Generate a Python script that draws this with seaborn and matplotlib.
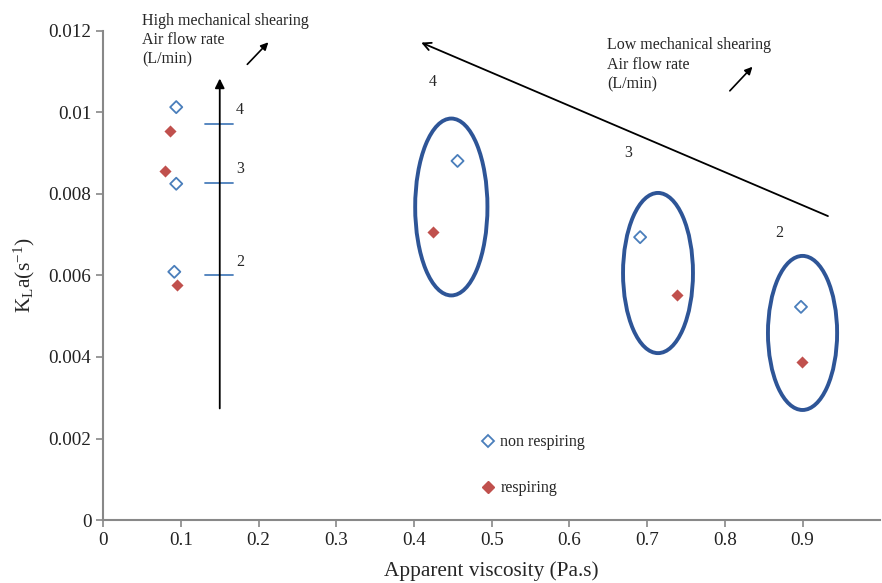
import numpy as np
import pandas as pd
import matplotlib
matplotlib.use("Agg")
import matplotlib.pyplot as plt
from matplotlib.patches import Ellipse
from matplotlib.lines import Line2D
import seaborn as sns

# ---- data ----
nonresp_visc = [0.094, 0.094, 0.0915, 0.456, 0.691, 0.898]
nonresp_kla = [0.01013, 0.00825, 0.00609, 0.00881, 0.00694, 0.00523]
resp_visc = [0.086, 0.079, 0.095, 0.425, 0.738, 0.899]
resp_kla = [0.00955, 0.00856, 0.00577, 0.00707, 0.00552, 0.00388]
series_names = ["non respiring", "respiring"]
x_ticks = [0, 0.1, 0.2, 0.3, 0.4, 0.5, 0.6, 0.7, 0.8, 0.9]
x_tick_labels = ["0", "0.1", "0.2", "0.3", "0.4", "0.5", "0.6", "0.7", "0.8", "0.9"]
y_ticks = [0, 0.002, 0.004, 0.006, 0.008, 0.01, 0.012]
y_tick_labels = ["0", "0.002", "0.004", "0.006", "0.008", "0.01", "0.012"]
# ellipse groups (center x, center y, width, height)
ell_cx = [0.448, 0.714, 0.900]
ell_cy = [0.00768, 0.00606, 0.00459]
ell_w = [0.093, 0.090, 0.089]
ell_h = [0.00434, 0.00393, 0.00378]
# air flow rate levels on vertical scale
flow_levels = ["4", "3", "2"]
flow_level_y = [0.00972, 0.00827, 0.00600]

df = pd.DataFrame({
    "visc": nonresp_visc + resp_visc,
    "kla": nonresp_kla + resp_kla,
    "type": [series_names[0]] * len(nonresp_visc) + [series_names[1]] * len(resp_visc),
})

sns.set_style("white")
plt.rcParams["font.family"] = ["Liberation Serif", "DejaVu Serif"]
plt.rcParams["mathtext.fontset"] = "stix"
plt.rcParams["mathtext.default"] = "regular"

BLUE = "#4a7ebb"
RED = "#c0504d"
DARK = "#2e5597"
GRAY = "#888888"

fig = plt.figure(figsize=(8.82, 5.83), dpi=100)
ax = fig.add_axes([0.117, 0.108, 0.881, 0.839])

d_non = df[df["type"] == series_names[0]]
d_res = df[df["type"] == series_names[1]]
sns.scatterplot(data=d_non, x="visc", y="kla", ax=ax, marker="D", s=38,
                color=BLUE, linewidth=1.3, legend=False)
ax.collections[-1].set_facecolor("none")
ax.collections[-1].set_edgecolor(BLUE)
sns.scatterplot(data=d_res, x="visc", y="kla", ax=ax, marker="D", s=38,
                color=RED, linewidth=0, legend=False)

for cx, cy, w, h in zip(ell_cx, ell_cy, ell_w, ell_h):
    ax.add_patch(Ellipse((cx, cy), w, h, fill=False, edgecolor=DARK, linewidth=2.8))

ax.set_xlim(0, 1.0)
ax.set_ylim(0, 0.012)
ax.set_xticks(x_ticks)
ax.set_xticklabels(x_tick_labels)
ax.set_yticks(y_ticks)
ax.set_yticklabels(y_tick_labels)
ax.tick_params(axis="both", labelsize=13.8, colors="#222222", length=5,
               width=1.2, direction="out", color=GRAY, left=True, bottom=True)
for s in ["top", "right"]:
    ax.spines[s].set_visible(False)
for s in ["left", "bottom"]:
    ax.spines[s].set_color(GRAY)
    ax.spines[s].set_linewidth(1.5)

ax.set_xlabel("Apparent viscosity (Pa.s)", fontsize=15.3, labelpad=9)
ax.set_ylabel("K$_L$a(s$^{-1}$)", fontsize=15.5, labelpad=8)

# vertical arrow (high shearing)
ax.annotate("", xy=(0.150, 0.0109), xytext=(0.150, 0.00267),
            arrowprops=dict(arrowstyle="-|>", color="black", lw=1.3, mutation_scale=14))
for lab, yy in zip(flow_levels, flow_level_y):
    ax.plot([0.131, 0.167], [yy, yy], color=BLUE, lw=1.3)
    ax.text(0.171, yy + 0.00014, lab, fontsize=11.5, va="bottom", ha="left")

ax.text(0.05, 0.01245, "High mechanical shearing\nAir flow rate\n(L/min)", fontsize=11.5,
        va="top", ha="left", linespacing=1.3, clip_on=False)
ax.annotate("", xy=(0.215, 0.01177), xytext=(0.183, 0.01113),
            arrowprops=dict(arrowstyle="-|>", color="black", lw=1.2, mutation_scale=11))

# diagonal arrow (low shearing)
ax.annotate("", xy=(0.406, 0.01174), xytext=(0.936, 0.00743),
            arrowprops=dict(arrowstyle="->", color="black", lw=1.3, mutation_scale=14))
ax.text(0.649, 0.01185, "Low mechanical shearing\nAir flow rate\n(L/min)", fontsize=11.5,
        va="top", ha="left", linespacing=1.3)
ax.annotate("", xy=(0.838, 0.01117), xytext=(0.804, 0.01048),
            arrowprops=dict(arrowstyle="-|>", color="black", lw=1.2, mutation_scale=11))
for lab, xx, yy in zip(flow_levels, [0.424, 0.675, 0.870], [0.01075, 0.0090, 0.00705]):
    ax.text(xx, yy, lab, fontsize=11.5, ha="center", va="center")

handles = [Line2D([], [], marker="D", ls="none", markersize=6, markerfacecolor="none",
                  markeredgecolor=BLUE, markeredgewidth=1.3),
           Line2D([], [], marker="D", ls="none", markersize=6, markerfacecolor=RED,
                  markeredgecolor=RED)]
ax.legend(handles, series_names, loc="upper left", bbox_to_anchor=(0.466, 0.205),
          frameon=False, fontsize=11.5, labelspacing=1.9, handletextpad=0.3,
          handlelength=1.0)

fig.savefig("out.png", dpi=100)
